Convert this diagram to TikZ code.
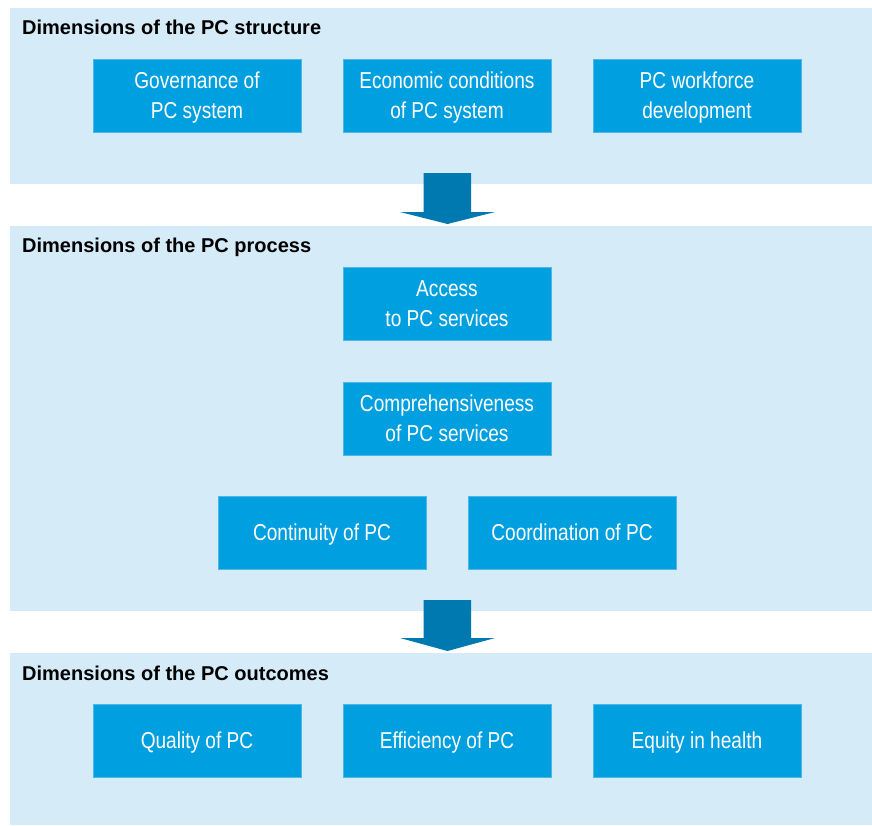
\documentclass[tikz,border=0pt]{standalone}
\usepackage{fontspec}
\setmainfont{Liberation Sans}
\newfontfamily\boxfont[FakeStretch=0.83]{Liberation Sans}
\newfontfamily\titlefont{Liberation Sans}
\newcommand\capstrut{\rule[-4pt]{0pt}{24.5pt}}
\definecolor{panelblue}{HTML}{D5EBF7}
\definecolor{boxblue}{HTML}{009FDF}
\definecolor{boxedge}{HTML}{4DB8E8}
\definecolor{arrowblue}{HTML}{0079B0}
\begin{document}
\begin{tikzpicture}[x=1pt,y=-1pt,
  dimbox/.style={fill=boxblue,draw=boxedge,line width=0.6pt,minimum width=208pt,minimum height=73pt,
    inner sep=0pt,align=center,text=white,font=\boxfont\fontsize{23}{30}\selectfont},
  paneltitle/.style={anchor=base west,inner sep=0pt,font=\titlefont\bfseries\fontsize{20}{24}\selectfont},
  bigarrow/.style={fill=arrowblue,draw=none}]
\fill[white] (0,0) rectangle (872,825);
\useasboundingbox (0,0) rectangle (872,825);
% panels
\fill[panelblue] (10,8) rectangle (872,184);
\fill[panelblue] (10,226) rectangle (872,611);
\fill[panelblue] (10,653) rectangle (872,825);
% titles
\node[paneltitle] (t1) at (22,34) {Dimensions of the PC structure};
\node[paneltitle] (t2) at (22,252) {Dimensions of the PC process};
\node[paneltitle] (t3) at (22,680) {Dimensions of the PC outcomes};
% structure boxes
\node[dimbox] (gov) at (197,96) {Governance of\capstrut\\PC system\capstrut};
\node[dimbox] (eco) at (447,96) {Economic conditions\capstrut\\of PC system\capstrut};
\node[dimbox] (work) at (697,96) {PC workforce\capstrut\\development\capstrut};
% process boxes
\node[dimbox] (acc) at (447,303.5) {Access\capstrut\\to PC services\capstrut};
\node[dimbox] (comp) at (447,418.5) {Comprehensiveness\capstrut\\of PC services\capstrut};
\node[dimbox] (cont) at (322,532.5) {Continuity of PC\capstrut};
\node[dimbox] (coord) at (572,532.5) {Coordination of PC\capstrut};
% outcome boxes
\node[dimbox] (qual) at (197,740.5) {Quality of PC\capstrut};
\node[dimbox] (eff) at (447,740.5) {Efficiency of PC\capstrut};
\node[dimbox] (eq) at (697,740.5) {Equity in health\capstrut};
% arrows
\fill[bigarrow] (423.5,173) -- (471,173) -- (471,212) -- (495,212) -- (447.5,224) -- (400,212) -- (423.5,212) -- cycle;
\fill[bigarrow] (423.5,600) -- (471,600) -- (471,638) -- (495,638) -- (447.5,651) -- (400,638) -- (423.5,638) -- cycle;
\end{tikzpicture}
\end{document}
